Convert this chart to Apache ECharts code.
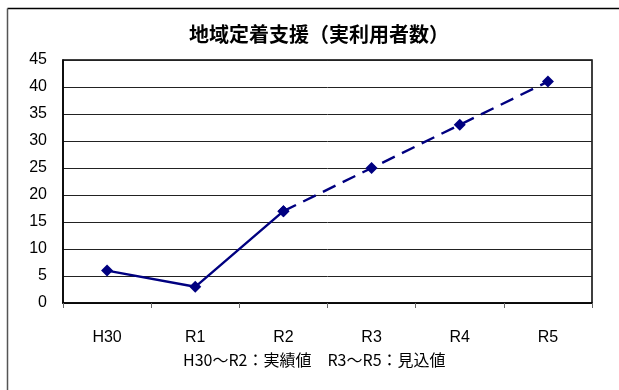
<!DOCTYPE html>
<html>
<head>
<meta charset="utf-8">
<script src="https://cdn.jsdelivr.net/npm/echarts@6/dist/echarts.min.js"></script>
<style>
  html, body { margin: 0; padding: 0; background: #fff; }
  #chart { width: 619px; height: 390px; }
</style>
</head>
<body>
<div id="chart"></div>
<script>
// Fiscal years on the x axis
const years = ['H30', 'R1', 'R2', 'R3', 'R4', 'R5'];
// Actual users (H30–R2)
const actualValues = [6, 3, 17];
// Projected users (R3–R5)
const projectedValues = [25, 33, 41];
// Y axis range
const yMin = 0, yMax = 45, yStep = 5;

const titleText = '地域定着支援（実利用者数）';
const noteText = 'H30～R2：実績値　R3～R5：見込値';

// Solid line covers the actual years; dashed line runs from the last actual year onward.
const solidData = years.map((_, i) => i < actualValues.length ? actualValues[i] : null);
const lastActual = actualValues.length - 1;
const dashedData = years.map((_, i) => {
  if (i === lastActual) return actualValues[lastActual];
  if (i > lastActual) return projectedValues[i - actualValues.length];
  return null;
});

const lineColor = '#000080';
const latin = '"Liberation Sans", Arial, "Noto Sans CJK JP", sans-serif';
const cjk = '"Noto Sans CJK JP", "Liberation Sans", sans-serif';

const chart = echarts.init(document.getElementById('chart'), null, { renderer: 'canvas' });
chart.setOption({
  animation: false,
  backgroundColor: '#fff',
  title: {
    text: titleText,
    left: 314, top: 19,
    textAlign: 'center',
    textStyle: { fontFamily: cjk, fontSize: 20, fontWeight: 'bold', color: '#000' }
  },
  graphic: [
    { type: 'line', shape: { x1: 7.5, y1: 8.5, x2: 619, y2: 8.5 }, style: { stroke: '#000', lineWidth: 1.5 } },
    { type: 'line', shape: { x1: 7.5, y1: 8.5, x2: 7.5, y2: 390 }, style: { stroke: '#555', lineWidth: 1.5 } },
    {
      type: 'text', left: 183, top: 352,
      style: { text: noteText, font: '16px ' + cjk, fill: '#000' }
    }
  ],
  grid: { left: 63, right: 27, top: 60, bottom: 87, show: true, borderColor: '#000', borderWidth: 1.5 },
  xAxis: {
    type: 'category',
    data: years,
    boundaryGap: true,
    axisLine: { show: true, lineStyle: { color: '#000', width: 1.5 } },
    axisTick: { show: true, length: 5, lineStyle: { color: '#666' }, inside: false },
    axisLabel: { margin: 27, color: '#000', fontSize: 16, fontFamily: latin },
    splitLine: { show: false }
  },
  yAxis: {
    type: 'value',
    min: yMin, max: yMax, interval: yStep,
    axisLine: { show: true, lineStyle: { color: '#000', width: 1.5 } },
    axisTick: { show: false },
    axisLabel: { margin: 16, color: '#000', fontSize: 16, fontFamily: latin },
    splitLine: { show: true, lineStyle: { color: '#222', width: 1 } }
  },
  series: [
    {
      type: 'line',
      data: solidData,
      symbol: 'diamond', symbolSize: 12,
      itemStyle: { color: lineColor },
      lineStyle: { color: lineColor, width: 2.4, type: 'solid' },
      connectNulls: false
    },
    {
      type: 'line',
      data: dashedData,
      symbol: 'diamond', symbolSize: 12,
      itemStyle: { color: lineColor },
      lineStyle: { color: lineColor, width: 2.4, type: [14, 8] },
      connectNulls: false
    }
  ]
});
</script>
</body>
</html>
